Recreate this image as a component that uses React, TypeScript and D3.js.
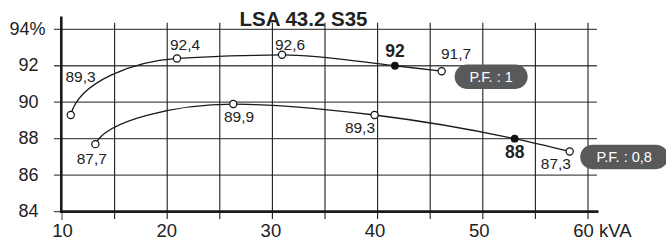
import React from "react";
import * as d3 from "d3";

// efficiency curves
const pf1Kva = [10.83, 20.93, 30.91, 41.65, 46.09];
const pf1Eff = [89.3, 92.4, 92.6, 92.0, 91.7];
const pf1Labels = ["89,3", "92,4", "92,6", "92", "91,7"];

const pf08Kva = [13.17, 26.28, 39.71, 53.03, 58.26];
const pf08Eff = [87.7, 89.9, 89.3, 88.0, 87.3];
const pf08Labels = ["87,7", "89,9", "89,3", "88", "87,3"];

const markedIndex = 3; // filled dot + bold label

const xTicks = [10, 20, 30, 40, 50, 60];
const xGrid = [15, 20, 25, 30, 35, 40, 45, 50, 55, 60];
const yTicks = [84, 86, 88, 90, 92, 94];
const yGrid = [86, 88, 90, 92, 94];

const title = "LSA 43.2 S35";
const pfTags = ["P.F. : 1", "P.F. : 0,8"];

const W = 666;
const H = 241;
const FONT = "'Liberation Sans', Arial, Helvetica, sans-serif";

const x = d3.scaleLinear().domain([10, 60]).range([62, 588]);
const xLabel = d3.scaleLinear().domain([10, 60]).range([62.5, 583.5]);
const y = d3.scaleLinear().domain([84, 94]).range([211.6, 29.3]);

// label offsets from each point: [dx, dy, anchor]
type Place = [number, number, "start" | "middle" | "end"];
const pf1Place: Place[] = [
  [-5.3, -32.7, "start"],
  [-7, -8.7, "start"],
  [-7, -5, "start"],
  [0, -8.7, "middle"],
  [-0.7, -12.2, "start"],
];
const pf08Place: Place[] = [
  [-3.6, 19.6, "middle"],
  [-9.3, 18.2, "start"],
  [0.5, 17.7, "end"],
  [0, 19, "middle"],
  [1.3, 17.5, "end"],
];

// monotone cubic, but with a steep log-like first segment like the original drawing
function effPath(kva: number[], eff: number[]) {
  const px = kva.map((v) => x(v));
  const py = eff.map((v) => y(v));
  const n = px.length;
  const h: number[] = [];
  const s: number[] = [];
  for (let i = 0; i < n - 1; i++) {
    h[i] = px[i + 1] - px[i];
    s[i] = (py[i + 1] - py[i]) / h[i];
  }
  const t: number[] = new Array(n).fill(0);
  for (let i = 1; i < n - 1; i++) {
    const p = (s[i - 1] * h[i] + s[i] * h[i - 1]) / (h[i - 1] + h[i]);
    t[i] =
      (Math.sign(s[i - 1]) + Math.sign(s[i])) *
        Math.min(Math.abs(s[i - 1]), Math.abs(s[i]), 0.5 * Math.abs(p)) || 0;
  }
  t[n - 1] = (3 * s[n - 2] - t[n - 2]) / 2;

  const path = d3.path();
  path.moveTo(px[0], py[0]);
  path.bezierCurveTo(
    px[0] + 0.08 * h[0],
    py[0] + 0.6 * (py[1] - py[0]),
    px[1] - 0.4 * h[0],
    py[1] - t[1] * 0.4 * h[0],
    px[1],
    py[1]
  );
  for (let i = 1; i < n - 1; i++) {
    const d = h[i] / 3;
    path.bezierCurveTo(
      px[i] + d,
      py[i] + t[i] * d,
      px[i + 1] - d,
      py[i + 1] - t[i + 1] * d,
      px[i + 1],
      py[i + 1]
    );
  }
  return path.toString();
}

const Series: React.FC<{
  kva: number[];
  eff: number[];
  labels: string[];
  place: Place[];
  tag: string;
  tagW: number;
  tagDx: number;
}> = ({ kva, eff, labels, place, tag, tagW, tagDx }) => {
  const last = kva.length - 1;
  const lx = x(kva[last]) + tagDx;
  const ly = y(eff[last]) + 5.5;
  return (
    <g>
      <path d={effPath(kva, eff)} fill="none" stroke="#1a1a1a" strokeWidth={1.3} />
      {kva.map((k, i) => (
        <circle
          key={i}
          cx={x(k)}
          cy={y(eff[i])}
          r={i === markedIndex ? 3.3 : 3.6}
          fill={i === markedIndex ? "#111" : "#fff"}
          stroke="#111"
          strokeWidth={1.2}
        />
      ))}
      {labels.map((l, i) => (
        <text
          key={i}
          x={x(kva[i]) + place[i][0]}
          y={y(eff[i]) + place[i][1]}
          textAnchor={place[i][2]}
          fontSize={i === markedIndex ? 17.5 : 15.5}
          fontWeight={i === markedIndex ? "bold" : "normal"}
          fill="#222"
        >
          {l}
        </text>
      ))}
      <rect x={lx} y={ly - 12.2} width={tagW} height={24.4} rx={12.2} fill="#58595b" />
      <text x={lx + tagW / 2} y={ly + 5} textAnchor="middle" fontSize={14.5} fill="#fff">
        {tag}
      </text>
    </g>
  );
};

export default function App() {
  const x0 = x(10);
  const x1 = x(60);
  const yBase = y(84);
  return (
    <svg
      width={W}
      height={H}
      style={{ position: "absolute", left: 0, top: 0, background: "#fff" }}
      fontFamily={FONT}
    >
      {/* horizontal grid */}
      {yGrid.map((v) => (
        <line key={v} x1={54} x2={597} y1={y(v)} y2={y(v)} stroke="#4d4d4d" strokeWidth={1.3} />
      ))}
      <line x1={54} x2={x0} y1={yBase} y2={yBase} stroke="#4d4d4d" strokeWidth={1.3} />
      {/* vertical grid */}
      {xGrid.map((v) => (
        <line key={v} x1={x(v)} x2={x(v)} y1={22.7} y2={219} stroke="#1f1f1f" strokeWidth={1.1} />
      ))}
      <line x1={x0} x2={x0} y1={yBase} y2={220} stroke="#555" strokeWidth={1.1} />
      {/* axes */}
      <line x1={x0 - 0.7} x2={x0 - 0.7} y1={16.5} y2={yBase + 1.3} stroke="#1a1a1a" strokeWidth={2.6} />
      <line x1={x0 - 2} x2={598.5} y1={yBase} y2={yBase} stroke="#1a1a1a" strokeWidth={2.6} />

      {/* y tick labels */}
      {yTicks.map((v) =>
        v === 94 ? (
          <text key={v} x={45.5} y={y(v) + 5.5} textAnchor="end" fontSize={18} fill="#222">
            {v}%
          </text>
        ) : (
          <text key={v} x={38.5} y={y(v) + 5.5} textAnchor="end" fontSize={18} fill="#222">
            {v}
          </text>
        )
      )}
      {/* x tick labels */}
      {xTicks.map((v) => (
        <text key={v} x={xLabel(v)} y={237.3} textAnchor="middle" fontSize={18.5} fill="#222">
          {v}
        </text>
      ))}
      <text x={xLabel(60) + 15.5} y={237.3} fontSize={18.5} fill="#222">
        kVA
      </text>

      <text x={303.5} y={26} textAnchor="middle" fontSize={20.5} fontWeight="bold" fill="#222">
        {title}
      </text>

      <Series
        kva={pf1Kva}
        eff={pf1Eff}
        labels={pf1Labels}
        place={pf1Place}
        tag={pfTags[0]}
        tagW={73}
        tagDx={13}
      />
      <Series
        kva={pf08Kva}
        eff={pf08Eff}
        labels={pf08Labels}
        place={pf08Place}
        tag={pfTags[1]}
        tagW={88}
        tagDx={10.5}
      />
    </svg>
  );
}
